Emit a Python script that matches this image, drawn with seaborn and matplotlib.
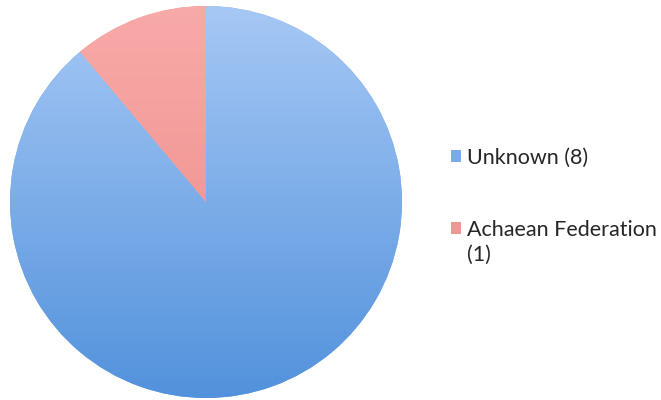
import numpy as np
import matplotlib
matplotlib.use("Agg")
import matplotlib.pyplot as plt
import seaborn as sns
from matplotlib.colors import LinearSegmentedColormap

# Chart data
names = ["Unknown", "Achaean Federation"]
counts = [8, 1]
colors = ["#79aaea", "#f09896"]
# gradient ends (top, bottom) for each slice
shades = [("#a6c8f5", "#5292dc"), ("#f8aaa8", "#ec8886")]

sns.set_theme(style="white")
plt.rcParams["font.family"] = ["Lato", "DejaVu Sans"]

fig = plt.figure(figsize=(6.61, 4.0), dpi=100)
ax = fig.add_axes([10 / 661, 2 / 400, 392 / 661, 392 / 400])

wedges, _ = ax.pie(counts, colors=colors, startangle=90, counterclock=False,
                   radius=1.0, wedgeprops=dict(linewidth=0))

# soft vertical gradient inside each slice
grad = np.linspace(0, 1, 256).reshape(-1, 1)
for w, (top, bottom) in zip(wedges, shades):
    cmap = LinearSegmentedColormap.from_list("g", [top, bottom])
    im = ax.imshow(grad, cmap=cmap, extent=[-1, 1, -1, 1], origin="upper",
                   aspect="auto", zorder=2)
    im.set_clip_path(w)

ax.set_xlim(-1.0, 1.0)
ax.set_ylim(-1.0, 1.0)
ax.set_aspect("equal")
ax.axis("off")

# legend: first line of each label, the count wraps for the long one
fs = 15.5
leg = fig.legend(wedges, [f"{names[0]} ({counts[0]})", names[1]], loc="upper left",
                 bbox_to_anchor=(451 / 661, 1 - 148 / 400),
                 frameon=False, fontsize=fs, handlelength=0.48, handleheight=0.48,
                 handletextpad=0.26, labelspacing=2.42, borderpad=0, borderaxespad=0)
fig.text(467 / 661, 1 - 255 / 400, f"({counts[1]})", fontsize=fs, va="center", ha="left")

fig.savefig("out.png", dpi=100)
